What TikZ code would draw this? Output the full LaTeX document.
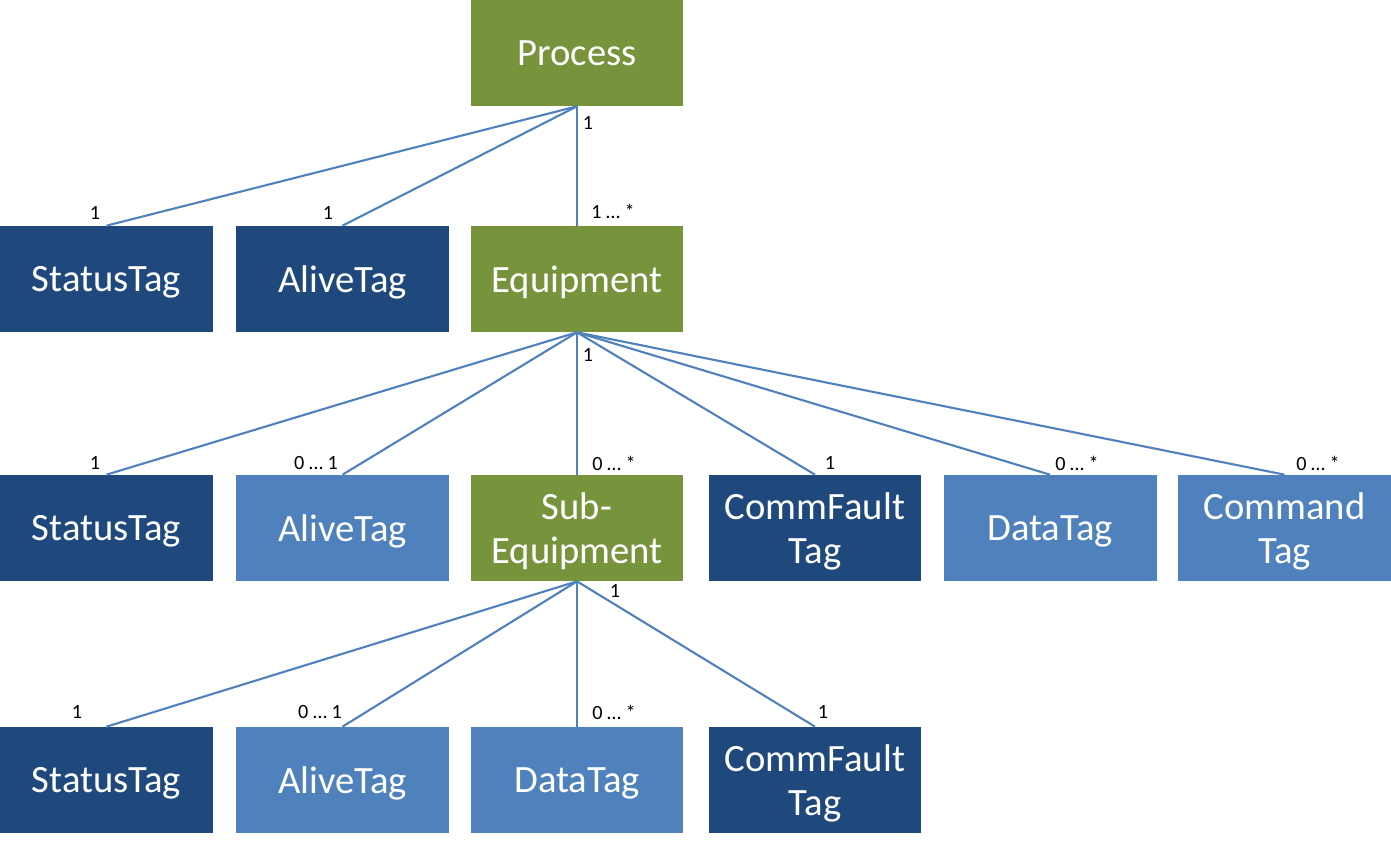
\documentclass[tikz,border=0pt]{standalone}
\usepackage{fontspec}
\setmainfont{Carlito}
\usepackage{tikz}
\usetikzlibrary{positioning}

\definecolor{procgreen}{HTML}{77933C}
\definecolor{darktag}{HTML}{1F497D}
\definecolor{lighttag}{HTML}{4F81BD}

\tikzset{
    box/.style={minimum width=4.26cm, minimum height=2.12cm, inner sep=0pt,
        text=white, align=center, font=\fontsize{22}{25.5}\selectfont,
        text depth=0pt},
    grn/.style={box, fill=procgreen},
    dark/.style={box, fill=darktag},
    light/.style={box, fill=lighttag},
    link/.style={draw=lighttag, line width=1.2pt},
    mult/.style={font=\fontsize{11.5}{13}\selectfont, inner sep=0pt}
}

\begin{document}
\begin{tikzpicture}[x=0.02cm, y=-0.02cm]
                \useasboundingbox (0,0) rectangle (1391,848);

                %Nodes
                \node[grn]   at (577,53)    (P)    {Process};
                \node[dark]  at (106.5,279) (ST1)  {StatusTag};
                \node[dark]  at (342.5,279) (AT1)  {AliveTag};
                \node[grn]   at (577,279)   (EQ)   {Equipment};

                \node[dark]  at (106.5,528) (ST2)  {StatusTag};
                \node[light] at (342.5,528) (AT2)  {AliveTag};
                \node[grn]   at (577,528)   (SEQ)  {Sub-\\Equipment};
                \node[dark]  at (815,528)   (CF2)  {CommFault\\Tag};
                \node[light] at (1050,528)  (DT2)  {DataTag};
                \node[light] at (1284.5,528)(CT2)  {Command\\Tag};

                \node[dark]  at (106.5,780) (ST3)  {StatusTag};
                \node[light] at (342.5,780) (AT3)  {AliveTag};
                \node[light] at (577,780)   (DT3)  {DataTag};
                \node[dark]  at (815,780)   (CF3)  {CommFault\\Tag};

                %Multiplicities
                \node[mult] at (588,123)  (mP)    {1};
                \node[mult] at (95,213)   (mST1)  {1};
                \node[mult] at (328,213)  (mAT1)  {1};
                \node[mult] at (613,211)  (mEQ)   {1 … *};

                \node[mult] at (588,355)  (mE)    {1};
                \node[mult] at (95,463)   (mST2)  {1};
                \node[mult] at (316,463)  (mAT2)  {0 … 1};
                \node[mult] at (614,463)  (mSEQ)  {0 … *};
                \node[mult] at (830,463)  (mCF2)  {1};
                \node[mult] at (1077,463) (mDT2)  {0 … *};
                \node[mult] at (1318,463) (mCT2)  {0 … *};

                \node[mult] at (615,591)  (mS)    {1};
                \node[mult] at (77,712)   (mST3)  {1};
                \node[mult] at (320,712)  (mAT3)  {0 … 1};
                \node[mult] at (614,712)  (mDT3)  {0 … *};
                \node[mult] at (823,712)  (mCF3)  {1};

                %Lines
                \draw[link] (P.south) -- (ST1.north);
                \draw[link] (P.south) -- (AT1.north);
                \draw[link] (P.south) -- (EQ.north);

                \draw[link] (EQ.south) -- (ST2.north);
                \draw[link] (EQ.south) -- (AT2.north);
                \draw[link] (EQ.south) -- (SEQ.north);
                \draw[link] (EQ.south) -- (CF2.north);
                \draw[link] (EQ.south) -- (DT2.north);
                \draw[link] (EQ.south) -- (CT2.north);

                \draw[link] (SEQ.south) -- (ST3.north);
                \draw[link] (SEQ.south) -- (AT3.north);
                \draw[link] (SEQ.south) -- (DT3.north);
                \draw[link] (SEQ.south) -- (CF3.north);
            \end{tikzpicture}
\end{document}
